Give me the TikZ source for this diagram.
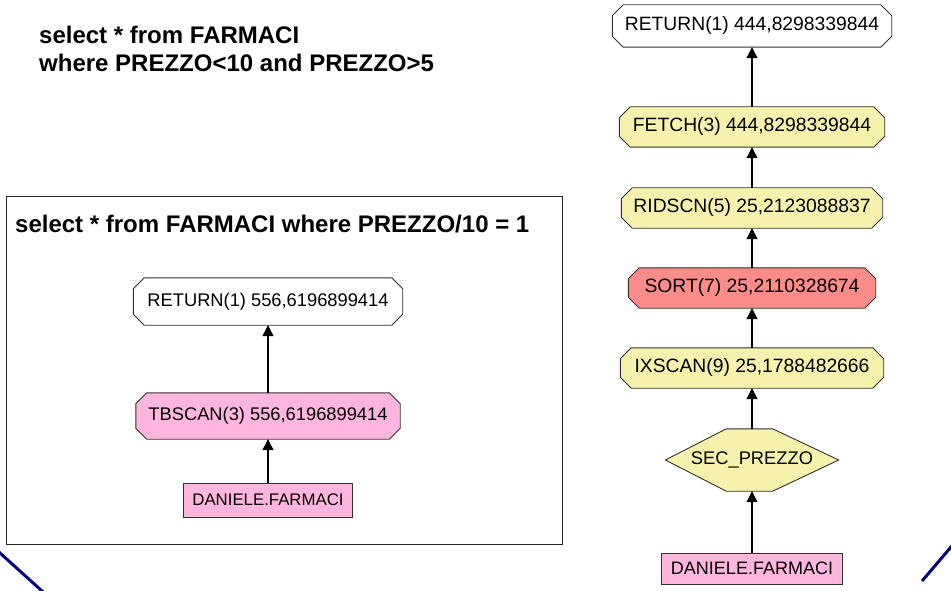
\documentclass[tikz,border=0pt]{standalone}
\usepackage{fontspec}
\setmainfont{Liberation Sans}
\usetikzlibrary{arrows.meta,backgrounds}

\definecolor{opyellow}{RGB}{246,241,173}
\definecolor{opsalmon}{RGB}{252,140,138}
\definecolor{oppink}{RGB}{255,182,222}
\definecolor{edgegray}{RGB}{50,50,50}
\definecolor{slidenavy}{RGB}{0,0,128}

% octagonal operator outline around a named node
\newcommand\opoctagon[2]{%
  \filldraw[fill=#2, draw=edgegray, line width=0.9pt]
    ([xshift=11pt]#1.north west) -- ([xshift=-11pt]#1.north east)
    -- ([yshift=-11pt]#1.north east) -- ([yshift=11pt]#1.south east)
    -- ([xshift=-11pt]#1.south east) -- ([xshift=11pt]#1.south west)
    -- ([yshift=11pt]#1.south west) -- ([yshift=-11pt]#1.north west) -- cycle;}

\begin{document}
\begin{tikzpicture}[x=1pt,y=-1pt,
  op/.style={rectangle, inner sep=0pt, text=black},
  lfont/.style={font=\fontsize{18.3}{20}\selectfont},
  rfont/.style={font=\fontsize{19.3}{21}\selectfont},
  tablebox/.style={op, draw=edgegray, line width=0.9pt, fill=oppink},
  query/.style={anchor=base west, inner sep=0pt, font=\fontsize{24}{28}\selectfont\bfseries},
  flow/.style={draw=black, line width=1.1pt, -{Triangle[length=11pt,width=11pt]}}
]
\useasboundingbox (0,0) rectangle (951,591);

% query of the range plan
\node[query] (q1) at (39,44) {select * from FARMACI};
\node[query] (q2) at (39,72) {where PREZZO<10 and PREZZO>5};

% framed plan for the computed predicate
\draw[draw=black!85, line width=1pt] (6,197) rectangle (562,544);
\node[query] (lq) at (15,232) {select * from FARMACI where PREZZO/10 = 1};

\node[op, lfont, minimum width=269pt, minimum height=47pt] (lret) at (268,301.5) {RETURN(1) 556,6196899414};
\node[op, lfont, minimum width=264pt, minimum height=46pt] (ltb) at (268,416) {TBSCAN(3) 556,6196899414};
\node[tablebox, font=\fontsize{16.8}{18}\selectfont, minimum width=169pt, minimum height=34pt] (ltab) at (268,500) {DANIELE.FARMACI};

\draw[flow] (ltab) -- (ltb);
\draw[flow] (ltb) -- (lret);

% index plan
\node[op, rfont, minimum width=279pt, minimum height=42pt] (rret) at (752,26) {RETURN(1) 444,8298339844};
\node[op, rfont, minimum width=265pt, minimum height=40pt] (rfet) at (752,127) {FETCH(3) 444,8298339844};
\node[op, rfont, minimum width=261pt, minimum height=40pt] (rrid) at (752,208) {RIDSCN(5) 25,2123088837};
\node[op, rfont, minimum width=247pt, minimum height=40pt] (rsort) at (752,288) {SORT(7) 25,2110328674};
\node[op, rfont, minimum width=263pt, minimum height=40pt] (rix) at (752,368) {IXSCAN(9) 25,1788482666};
\node[op, font=\fontsize{18.3}{20}\selectfont, minimum width=173pt, minimum height=62pt] (ridx) at (752,460) {SEC\_PREZZO};
\node[tablebox, font=\fontsize{18}{20}\selectfont, minimum width=181pt, minimum height=31pt] (rtab) at (752,568.5) {DANIELE.FARMACI};

\draw[flow] (rtab) -- (ridx);
\draw[flow] (ridx) -- (rix);
\draw[flow] (rix) -- (rsort);
\draw[flow] (rsort) -- (rrid);
\draw[flow] (rrid) -- (rfet);
\draw[flow] (rfet) -- (rret);

% slide corner strokes
\draw[slidenavy, line width=3pt] (-3,550.3) -- (45,593.7);
\draw[slidenavy, line width=3pt] (922,581) -- (955,542.3);

\begin{scope}[on background layer]
  \fill[white] (0,0) rectangle (951,591);
  \opoctagon{lret}{white}
  \opoctagon{ltb}{oppink}
  \opoctagon{rret}{white}
  \opoctagon{rfet}{opyellow}
  \opoctagon{rrid}{opyellow}
  \opoctagon{rsort}{opsalmon}
  \opoctagon{rix}{opyellow}
  \filldraw[fill=opyellow, draw=edgegray, line width=0.9pt]
    (ridx.west) -- ([xshift=61pt]ridx.north west) -- ([xshift=-66pt]ridx.north east)
    -- (ridx.east) -- ([xshift=-66pt]ridx.south east) -- ([xshift=61pt]ridx.south west) -- cycle;
\end{scope}
\end{tikzpicture}
\end{document}
